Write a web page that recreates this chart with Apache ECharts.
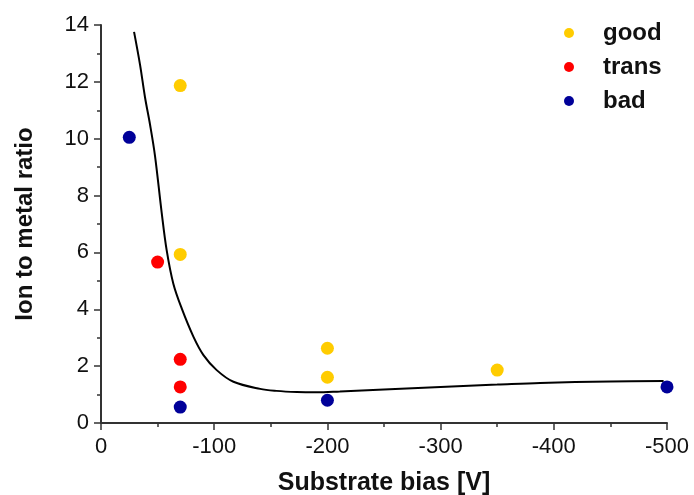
<!DOCTYPE html>
<html>
<head>
<meta charset="utf-8">
<script src="https://cdn.jsdelivr.net/npm/echarts@6/dist/echarts.min.js"></script>
<style>
html,body{margin:0;padding:0;background:#fff;}
#chart{width:694px;height:495px;}
</style>
</head>
<body>
<div id="chart"></div>
<script>
// Data
var goodData  = [[-70, 11.87], [-70, 5.93], [-200, 2.63], [-200, 1.61], [-350, 1.86]];
var transData = [[-50, 5.66], [-70, 2.24], [-70, 1.27]];
var badData   = [[-25, 10.05], [-70, 0.56], [-200, 0.8], [-500, 1.27]];
var fitCurve  = [[-29.2, 13.76], [-34.5, 12.6], [-38.9, 11.45], [-43.3, 10.5], [-47.7, 9.4],
                 [-53.6, 7.4], [-58, 6.08], [-63.9, 4.9], [-71.3, 4.03],
                 [-81.6, 3.04], [-90.5, 2.39], [-102.2, 1.86], [-117, 1.45], [-140.6, 1.2],
                 [-155, 1.13], [-173, 1.09], [-190, 1.08], [-211, 1.11], [-250, 1.18],
                 [-300, 1.27], [-350, 1.35], [-388, 1.41], [-450, 1.46], [-497, 1.48]];
var seriesNames = ['good', 'trans', 'bad'];
var xTitle = 'Substrate bias [V]';
var yTitle = 'Ion to metal ratio';

var chart = echarts.init(document.getElementById('chart'), null, {renderer: 'canvas'});
var font = 'Liberation Sans, Arial, sans-serif';
var axisColor = '#333333';
function axisCommon() {
  return {
    axisLine: {show: true, onZero: false, lineStyle: {color: axisColor, width: 2}},
    axisTick: {show: true, inside: false, length: 7, lineStyle: {color: axisColor, width: 1.5}},
    minorTick: {show: true, splitNumber: 2, length: 4, lineStyle: {color: axisColor, width: 1.5}},
    splitLine: {show: false},
    minorSplitLine: {show: false}
  };
}
var xAx = axisCommon();
Object.assign(xAx, {
  type: 'value', min: -500, max: 0, interval: 100, inverse: true,
  name: xTitle, nameLocation: 'middle', nameGap: 48,
  nameTextStyle: {fontFamily: font, fontWeight: 'bold', fontSize: 25, color: '#111'},
  axisLabel: {fontFamily: font, fontSize: 22, color: '#111', margin: 13}
});
var yAx = axisCommon();
Object.assign(yAx, {
  type: 'value', min: 0, max: 14, interval: 2,
  name: yTitle, nameLocation: 'middle', nameGap: 64, nameRotate: 90,
  nameTextStyle: {fontFamily: font, fontWeight: 'bold', fontSize: 24, color: '#111'},
  axisLabel: {fontFamily: font, fontSize: 22, color: '#111', margin: 12}
});

chart.setOption({
  backgroundColor: '#fff',
  animation: false,
  grid: {left: 101, right: 27, top: 25, bottom: 72, containLabel: false, outerBoundsMode: 'none'},
  legend: {
    data: seriesNames, orient: 'vertical', left: 559, top: 16,
    itemWidth: 58, itemHeight: 10, itemGap: 10, icon: 'circle',
    textStyle: {fontFamily: font, fontWeight: 'bold', fontSize: 24, color: '#111'}
  },
  xAxis: xAx,
  yAxis: yAx,
  series: [
    {type: 'line', name: 'fit', data: fitCurve, showSymbol: false, smooth: 0.35,
     lineStyle: {color: '#000', width: 2}, z: 1, silent: true},
    {type: 'scatter', name: 'good', data: goodData, symbolSize: 13, itemStyle: {color: '#FFCC00', opacity: 1}, z: 3},
    {type: 'scatter', name: 'trans', data: transData, symbolSize: 13, itemStyle: {color: '#FF0000', opacity: 1}, z: 3},
    {type: 'scatter', name: 'bad', data: badData, symbolSize: 13, itemStyle: {color: '#000099', opacity: 1}, z: 3}
  ]
});
</script>
</body>
</html>
